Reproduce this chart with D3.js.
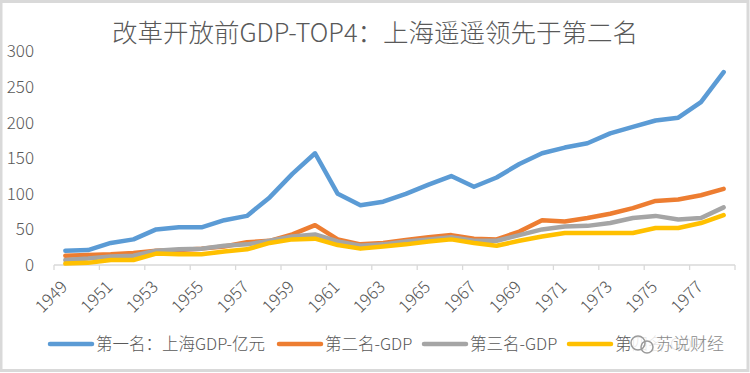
<!DOCTYPE html>
<html>
<head>
<meta charset="utf-8">
<script src="https://cdn.jsdelivr.net/npm/d3@7"></script>
<style>
  body { margin: 0; background: #fff; }
  text { font-family: "Noto Sans CJK SC", "Noto Sans", sans-serif; font-weight: 300; fill: #595959; }
</style>
</head>
<body>
<div id="chart"></div>
<script>
const years = d3.range(1949, 1979);
const shanghai = [20, 21, 31, 36, 50, 53, 53, 63, 69, 95, 128, 157, 100, 84, 89, 100, 113, 125, 110, 123, 142, 157, 165, 171, 185, 194, 203, 207, 229, 271];
const second = [13, 14, 15, 17, 20, 21, 23, 26, 32, 34, 43, 56, 36, 29, 31, 35, 39, 42, 37, 36, 47, 63, 61, 66, 72, 80, 90, 92, 98, 107];
const third = [7, 9, 12, 13, 20, 22, 23, 27, 29, 34, 40, 43, 33, 27, 29, 33, 36, 39, 34, 34, 42, 50, 54, 55, 59, 66, 69, 64, 66, 81];
const fourth = [2, 3, 7, 7, 16, 15, 15, 19, 22, 31, 36, 37, 28, 23, 26, 29, 33, 36, 31, 27, 34, 40, 45, 45, 45, 45, 52, 52, 59, 70];
const yTicks = [0, 50, 100, 150, 200, 250, 300];
const seriesNames = ['第一名：上海GDP-亿元', '第二名-GDP', '第三名-GDP', '第四名-GDP'];
const colors = ['#5b9bd5', '#ed7d31', '#a5a5a5', '#ffc000'];
const title = '改革开放前GDP-TOP4：上海遥遥领先于第二名';

const W = 750, H = 373;
const svg = d3.select('#chart').append('svg')
  .attr('width', W)
  .attr('height', H);

// frame
svg.append('rect')
  .attr('x', 1).attr('y', 1.5)
  .attr('width', W - 3).attr('height', H - 4)
  .attr('fill', '#fff')
  .attr('stroke', '#d9d9d9')
  .attr('stroke-width', 3);

const x = d3.scaleBand()
  .domain(years)
  .range([54, 735]);

const y = d3.scaleLinear()
  .domain([0, 300])
  .range([265, 51.5]);

svg.append('text')
  .attr('x', 375)
  .attr('y', 42)
  .attr('text-anchor', 'middle')
  .style('font-size', '25.5px')
  .text(title);

// y labels
svg.selectAll('.ylab')
  .data(yTicks)
  .enter()
  .append('text')
  .attr('class', 'ylab')
  .attr('x', 34)
  .attr('y', d => y(d))
  .attr('dy', '0.35em')
  .attr('text-anchor', 'end')
  .style('font-size', '17px')
  .text(d => d);

// x axis line + ticks every two categories
svg.append('line')
  .attr('x1', x.range()[0]).attr('x2', x.range()[1])
  .attr('y1', y(0)).attr('y2', y(0))
  .attr('stroke', '#d9d9d9')
  .attr('stroke-width', 1.3);

const tickYears = years.filter((d, i) => i % 2 === 0);
svg.selectAll('.xtick')
  .data(tickYears.concat([null]))
  .enter()
  .append('line')
  .attr('x1', d => d === null ? x.range()[1] : x(d))
  .attr('x2', d => d === null ? x.range()[1] : x(d))
  .attr('y1', y(0))
  .attr('y2', y(0) + 5)
  .attr('stroke', '#d9d9d9')
  .attr('stroke-width', 1.3);

svg.selectAll('.xlab')
  .data(tickYears)
  .enter()
  .append('text')
  .attr('class', 'xlab')
  .attr('text-anchor', 'end')
  .attr('transform', d => `translate(${x(d) + x.bandwidth() / 2 + 3}, 288) rotate(-45)`)
  .style('font-size', '17px')
  .text(d => d);

// lines
const line = d3.line()
  .x((d, i) => x(years[i]) + x.bandwidth() / 2)
  .y(d => y(d));

[shanghai, second, third, fourth].forEach((s, k) => {
  svg.append('path')
    .datum(s)
    .attr('d', line)
    .attr('fill', 'none')
    .attr('stroke', colors[k])
    .attr('stroke-width', 4.5)
    .attr('stroke-linejoin', 'round')
    .attr('stroke-linecap', 'round');
});

// legend
const legendX = [50, 279, 424, 569];
const legend = svg.selectAll('.legend')
  .data(seriesNames)
  .enter()
  .append('g')
  .attr('class', 'legend')
  .attr('transform', (d, i) => `translate(${legendX[i]}, 344)`);

legend.append('line')
  .attr('x1', 0).attr('x2', 42)
  .attr('stroke', (d, i) => colors[i])
  .attr('stroke-width', 4.5)
  .attr('stroke-linecap', 'round');

legend.append('text')
  .attr('x', 46)
  .attr('dy', '0.35em')
  .style('font-size', '16.5px')
  .text(d => d);

// watermark over the last legend entry
const wm = svg.append('g').attr('transform', 'translate(620, 344)');
wm.append('rect')
  .attr('x', 12).attr('y', -12)
  .attr('width', 110).attr('height', 24)
  .attr('fill', '#fff')
  .attr('opacity', 0.85);
wm.append('circle')
  .attr('cx', 18).attr('cy', -1).attr('r', 7)
  .attr('fill', 'none').attr('stroke', '#9a9a9a').attr('stroke-width', 1.5);
wm.append('circle')
  .attr('cx', 27).attr('cy', 3).attr('r', 6)
  .attr('fill', 'none').attr('stroke', '#9a9a9a').attr('stroke-width', 1.5);
wm.append('text')
  .attr('x', 36)
  .attr('dy', '0.35em')
  .style('font-size', '17px')
  .style('fill', '#8a8a8a')
  .text('苏说财经');
</script>
</body>
</html>
